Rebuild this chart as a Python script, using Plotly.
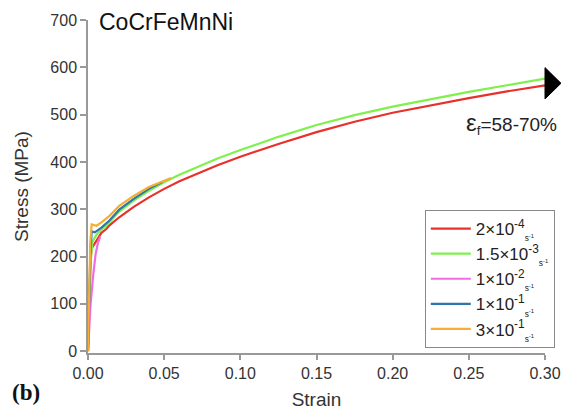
import plotly.graph_objects as go

# ---- data ----
red_x = [0, 0.0005, 0.0012, 0.0018, 0.0024, 0.0045, 0.0088, 0.012, 0.0141, 0.0205, 0.03, 0.04, 0.05, 0.06, 0.072, 0.085, 0.10, 0.125, 0.15, 0.175, 0.20, 0.225, 0.25, 0.275, 0.30]
red_y = [0, 60, 140, 200, 217, 228, 250, 258, 266, 283, 305, 325, 343, 359, 376, 393, 411, 438, 463, 485, 504, 520, 535, 549, 562]

green_x = [0, 0.0015, 0.003, 0.0056, 0.0088, 0.012, 0.0205, 0.03, 0.04, 0.05, 0.06, 0.072, 0.085, 0.10, 0.125, 0.15, 0.175, 0.20, 0.225, 0.25, 0.275, 0.30]
green_y = [0, 180, 232, 246, 257, 265, 295, 318, 339, 357, 373, 390, 407, 425, 453, 478, 499, 517, 533, 548, 562, 576]

magenta_x = [0, 0.0007, 0.0017, 0.0034, 0.005, 0.0065, 0.008]
magenta_y = [0, 45, 100, 160, 205, 228, 242]

blue_x = [0, 0.0015, 0.0024, 0.0045, 0.0088, 0.0141, 0.0205, 0.03, 0.04, 0.049]
blue_y = [0, 200, 253, 251, 261, 276, 299, 322, 343, 358]

orange_x = [0, 0.0006, 0.0015, 0.0024, 0.0056, 0.0088, 0.0141, 0.0205, 0.03, 0.04, 0.0545]
orange_y = [0, 100, 230, 268, 265, 272, 286, 307, 328, 347, 366]

labels = [
    "2×10<sup>-4</sup><sub><sub>s<sup>-1</sup></sub></sub>",
    "1.5×10<sup>-3</sup><sub><sub>s<sup>-1</sup></sub></sub>",
    "1×10<sup>-2</sup><sub><sub>s<sup>-1</sup></sub></sub>",
    "1×10<sup>-1</sup><sub><sub>s<sup>-1</sup></sub></sub>",
    "3×10<sup>-1</sup><sub><sub>s<sup>-1</sup></sub></sub>",
]
colors = ["#e8302c", "#7ff04c", "#f06ce2", "#2f76ad", "#f5ae32"]

x_ticks = [0.00, 0.05, 0.10, 0.15, 0.20, 0.25, 0.30]
x_ticklabels = ["0.00", "0.05", "0.10", "0.15", "0.20", "0.25", "0.30"]
y_ticks = [0, 100, 200, 300, 400, 500, 600, 700]

FONT = "Liberation Sans, Arial, sans-serif"

fig = go.Figure()
series = [(red_x, red_y), (green_x, green_y), (magenta_x, magenta_y), (blue_x, blue_y), (orange_x, orange_y)]
for (xs, ys), lab, col in zip(series, labels, colors):
    fig.add_trace(go.Scatter(x=xs, y=ys, mode="lines", name=lab,
                             line=dict(color=col, width=2.2)))

fig.update_layout(
    width=573, height=419,
    margin=dict(l=88, r=17, t=12, b=65),
    plot_bgcolor="white", paper_bgcolor="white",
    font=dict(family=FONT, color="#222", size=16),
    showlegend=True,
    legend=dict(x=0.737, y=0.015, xanchor="left", yanchor="bottom",
                bordercolor="#888", borderwidth=1, bgcolor="white",
                font=dict(size=17, family=FONT, color="#222"),
                tracegroupgap=0, itemwidth=40),
    xaxis=dict(range=[0, 0.30], tickvals=x_ticks, ticktext=x_ticklabels,
               showgrid=False, zeroline=False, showline=True, linecolor="#999", linewidth=1.5,
               ticks="outside", ticklen=5, tickcolor="#999", tickwidth=1.5,
               tickfont=dict(size=16, color="#333"),
               title=dict(text="Strain", font=dict(size=19, color="#333"), standoff=12)),
    yaxis=dict(range=[-4, 700], tickvals=y_ticks,
               showgrid=False, zeroline=False, showline=True, linecolor="#999", linewidth=1.5,
               ticks="outside", ticklen=6, tickcolor="#999", tickwidth=1.5,
               tickfont=dict(size=16, color="#333"),
               title=dict(text="Stress (MPa)", font=dict(size=19, color="#333"), standoff=17)),
)

# arrow head at the end of the curves
fig.add_shape(type="path", xref="paper", yref="paper",
              path="M 1.0 0.857 L 1.035 0.810 L 1.0 0.763 Z",
              fillcolor="black", line=dict(color="black", width=1))

fig.add_annotation(text="CoCrFeMnNi", xref="paper", yref="paper", x=0.02, y=1.04,
                   xanchor="left", yanchor="top", showarrow=False,
                   font=dict(size=23, family=FONT, color="#111"))
fig.add_annotation(text="<span style='font-size:24px'>ε</span><sub>f</sub>=58-70%", xref="paper", yref="paper",
                   x=1.03, y=0.69, xanchor="right", yanchor="middle", showarrow=False,
                   font=dict(size=19, family=FONT, color="#222"))
fig.add_annotation(text="<b>(b)</b>", xref="paper", yref="paper", x=-0.17, y=-0.12,
                   xanchor="left", yanchor="middle", showarrow=False,
                   font=dict(size=23, family="Liberation Serif, Times New Roman, serif", color="#111"))

fig.write_html("out.html")
